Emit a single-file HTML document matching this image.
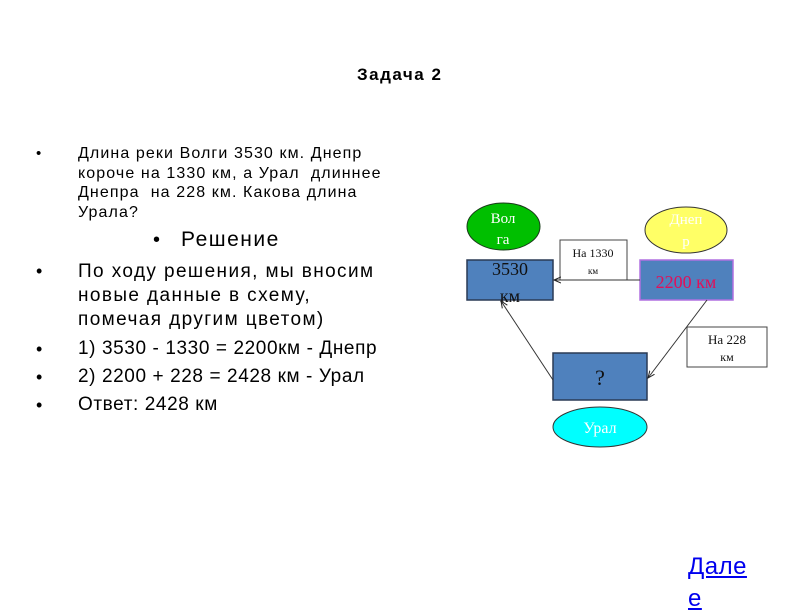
<!DOCTYPE html>
<html><head><meta charset="utf-8"><style>
body{margin:0;background:#fff;width:800px;height:600px;overflow:hidden;position:relative;font-family:"Liberation Sans","DejaVu Sans",sans-serif;}
.t{position:absolute;white-space:nowrap;color:#000;}
</style></head><body>
<div class="t" style="left:357px;top:65px;font-size:17px;font-weight:bold;letter-spacing:1.5px">Задача 2</div>

<div class="t" style="left:36px;top:145px;font-size:15px">•</div>
<div class="t" style="left:78px;top:144px;font-size:16px;line-height:19.5px;letter-spacing:1.1px">Длина реки Волги 3530 км. Днепр<br>короче на 1330 км, а Урал&nbsp; длиннее<br>Днепра&nbsp; на 228 км. Какова длина<br>Урала?</div>

<div class="t" style="left:153px;top:229px;font-size:20px">•</div>
<div class="t" style="left:181px;top:228px;font-size:21px;letter-spacing:1.5px">Решение</div>

<div class="t" style="left:36px;top:261px;font-size:18px">•</div>
<div class="t" style="left:78px;top:260px;font-size:19px;line-height:24px;letter-spacing:1.4px">По ходу решения, мы вносим<br>новые данные в схему,<br>помечая другим цветом)</div>
<div class="t" style="left:36px;top:339px;font-size:18px">•</div>
<div class="t" style="left:78px;top:338px;font-size:19px;letter-spacing:0.6px">1) 3530 - 1330 = 2200км - Днепр</div>
<div class="t" style="left:36px;top:367px;font-size:18px">•</div>
<div class="t" style="left:78px;top:366px;font-size:19px;letter-spacing:0.6px">2) 2200 + 228 = 2428 км - Урал</div>
<div class="t" style="left:36px;top:395px;font-size:18px">•</div>
<div class="t" style="left:78px;top:394px;font-size:19px;letter-spacing:0.6px">Ответ: 2428 км</div>

<svg width="800" height="600" style="position:absolute;left:0;top:0" font-family="Liberation Serif, serif">
<defs><marker id="a" markerWidth="8" markerHeight="8" refX="7" refY="4" orient="auto" markerUnits="userSpaceOnUse"><path d="M0,1 L7,4 L0,7" fill="none" stroke="#222" stroke-width="1"/></marker></defs>
<ellipse cx="503.5" cy="226.5" rx="36.5" ry="23.5" fill="#00bf00" stroke="#1a3a1a" stroke-width="1"/>
<text x="503" y="223" font-size="15" fill="#fff" text-anchor="middle">Вол</text>
<text x="503" y="244" font-size="15" fill="#fff" text-anchor="middle">га</text>
<ellipse cx="686" cy="230" rx="41" ry="23" fill="#ffff66" stroke="#333" stroke-width="1"/>
<text x="686" y="224" font-size="15" fill="#fff" text-anchor="middle">Днеп</text>
<text x="686" y="246" font-size="15" fill="#fff" text-anchor="middle">р</text>
<rect x="467" y="260" width="86" height="40" fill="#4f81bd" stroke="#2a3a55" stroke-width="1.5"/>
<text x="510" y="275" font-size="18" fill="#111" text-anchor="middle">3530</text>
<text x="510" y="302" font-size="18" fill="#111" text-anchor="middle">км</text>
<rect x="560" y="240" width="67" height="40" fill="#fff" stroke="#444" stroke-width="1"/>
<text x="593" y="257" font-size="12" fill="#111" text-anchor="middle">На 1330</text>
<text x="593" y="274" font-size="9" fill="#111" text-anchor="middle">км</text>
<rect x="640" y="260" width="93" height="40" fill="#4f81bd" stroke="#b070e0" stroke-width="1.5"/>
<text x="686" y="288" font-size="18" fill="#e0105a" text-anchor="middle">2200 км</text>
<line x1="640" y1="280" x2="554" y2="280" stroke="#333" stroke-width="1" marker-end="url(#a)"/>
<rect x="553" y="353" width="94" height="47" fill="#4f81bd" stroke="#2a3a55" stroke-width="1.5"/>
<text x="600" y="385" font-size="22" fill="#111" text-anchor="middle">?</text>
<line x1="553" y1="380" x2="501" y2="301" stroke="#333" stroke-width="1" marker-end="url(#a)"/>
<line x1="707" y1="300" x2="648" y2="378" stroke="#333" stroke-width="1" marker-end="url(#a)"/>
<rect x="687" y="327" width="80" height="40" fill="#fff" stroke="#444" stroke-width="1"/>
<text x="727" y="344" font-size="13" fill="#111" text-anchor="middle">На 228</text>
<text x="727" y="361" font-size="12" fill="#111" text-anchor="middle">км</text>
<ellipse cx="600" cy="427" rx="47" ry="20" fill="#00ffff" stroke="#333" stroke-width="1"/>
<text x="600" y="433" font-size="16" fill="#fff" text-anchor="middle">Урал</text>
</svg>
<div class="t" style="left:688px;top:551px;font-size:24px;letter-spacing:0.5px;color:#0000ee;text-decoration:underline;line-height:32px">Дале<br>е</div>
</body></html>
